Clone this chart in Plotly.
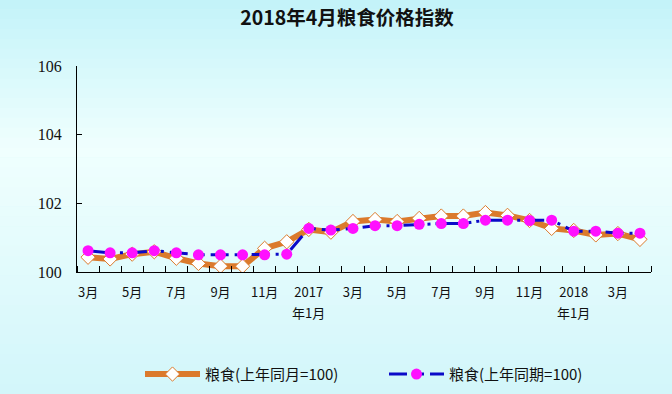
import plotly.graph_objects as go

months = ["3月", "4月", "5月", "6月", "7月", "8月", "9月", "10月", "11月", "12月",
          "2017|年1月", "2月", "3月", "4月", "5月", "6月", "7月", "8月", "9月", "10月", "11月", "12月",
          "2018|年1月", "2月", "3月", "4月"]
same_month = [100.43, 100.38, 100.52, 100.59, 100.40, 100.25, 100.17, 100.17, 100.69, 100.88,
              101.24, 101.16, 101.47, 101.53, 101.47, 101.56, 101.63, 101.63, 101.73, 101.65, 101.50,
              101.27, 101.21, 101.08, 101.12, 100.95]
same_period = [100.62, 100.56, 100.56, 100.62, 100.56, 100.50, 100.50, 100.50, 100.50, 100.52,
               101.27, 101.22, 101.27, 101.35, 101.35, 101.39, 101.41, 101.41, 101.51, 101.51, 101.50,
               101.51, 101.19, 101.19, 101.13, 101.13]
label_every = 2
y_ticks = [100, 102, 104, 106]

x = list(range(len(months)))
tickvals = x[::label_every]
ticktext = [months[i].split("|")[0] for i in tickvals]
second_lines = [(i, months[i].split("|")[1]) for i in tickvals if "|" in months[i]]

fig = go.Figure()
fig.add_trace(go.Scatter(
    x=x, y=same_month, mode="lines+markers", name="粮食(上年同月=100)",
    line=dict(color="#db7a2c", width=6),
    marker=dict(symbol="diamond", size=11, color="white", line=dict(color="#db7a2c", width=1)),
))
fig.add_trace(go.Scatter(
    x=x, y=same_period, mode="lines+markers", name="粮食(上年同期=100)",
    line=dict(color="#0a0ac8", width=3, dash="18px,6px,3px,5px,3px,6px"),
    marker=dict(symbol="circle", size=11, color="#ff10ff"),
))

# background gradient bands
W, H, T, B = 672, 394, 66, 122
ph = H - T - B
stops = [(0, (0xc2, 0xf3, 0xf9)), (150, (0xf0, 0xff, 0xfe)), (394, (0xd2, 0xf6, 0xfa))]
def col(py):
    for (a, ca), (b, cb) in zip(stops[:-1], stops[1:]):
        if a <= py <= b:
            t = (py - a) / (b - a)
            return "rgb(%d,%d,%d)" % tuple(round(ca[i] + (cb[i] - ca[i]) * t) for i in range(3))
    return "rgb(210,246,250)"
shapes = []
n = 40
for k in range(n):
    y0p = H * k / n
    y1p = H * (k + 1) / n
    shapes.append(dict(type="rect", xref="paper", yref="paper", layer="below",
                       x0=-80 / 574, x1=1 + 30 / 574,
                       y0=(H - B - y1p) / ph, y1=(H - B - y0p) / ph + 0.002,
                       fillcolor=col((y0p + y1p) / 2), line=dict(width=0)))

annotations = [dict(x=i, y=-40 / ph, xref="x", yref="paper", text=t, showarrow=False,
                    xanchor="center", yanchor="middle",
                    font=dict(family="Noto Sans CJK SC", size=13, color="#111"))
               for i, t in second_lines]

fig.update_layout(
    width=W, height=H,
    margin=dict(l=77, r=21, t=T, b=B, autoexpand=False),
    paper_bgcolor="#d6f7fa", plot_bgcolor="rgba(0,0,0,0)",
    shapes=shapes,
    annotations=annotations,
    title=dict(text="<b>2018年4月粮食价格指数</b>", x=347 / 672, xref="container", xanchor="center",
               y=0.955, yanchor="middle",
               font=dict(family="Noto Sans CJK SC", size=19.5, color="#111")),
    showlegend=True,
    legend=dict(orientation="h", x=140 / 672, xanchor="left", xref="container", y=0.05, yref="container",
                yanchor="middle", font=dict(family="Noto Sans CJK SC", size=15, color="#111"),
                itemwidth=55, entrywidth=174, bgcolor="rgba(0,0,0,0)"),
    xaxis=dict(range=[-0.5, len(months) - 0.5], tickvals=tickvals, ticktext=ticktext, ticks="",
               showline=True, linecolor="black", linewidth=1, showgrid=False, zeroline=False,
               minor=dict(ticks="inside", tick0=-0.5, dtick=1, ticklen=6, tickcolor="black", showgrid=False),
               tickfont=dict(family="Noto Sans CJK SC", size=13, color="#111"), ticklabelstandoff=8),
    yaxis=dict(range=[100, 106], tickvals=y_ticks, ticks="inside", ticklen=5, tickcolor="black",
               showline=True, linecolor="black", linewidth=1, showgrid=False, zeroline=False,
               tickfont=dict(family="Liberation Serif", size=16, color="#111"), ticklabelstandoff=11),
)
fig.write_html("out.html", config={"displayModeBar": False},
               post_script="document.body.style.margin='0';document.body.style.padding='0';")
